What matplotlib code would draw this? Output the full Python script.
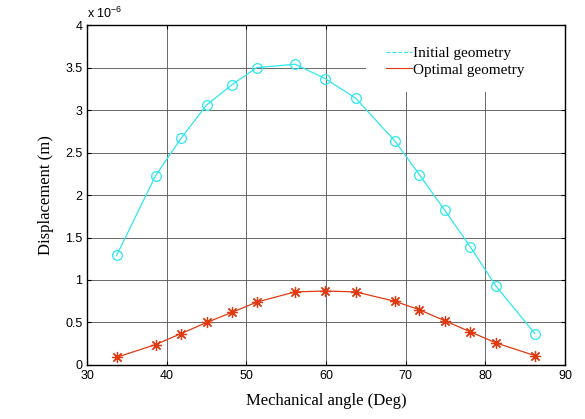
import numpy as np
import matplotlib.pyplot as plt
from matplotlib.lines import Line2D
from matplotlib.patches import Rectangle
from matplotlib.ticker import FuncFormatter

angle = [33.7, 38.6, 41.8, 45.0, 48.2, 51.3, 56.1, 59.9, 63.7, 68.6, 71.7, 74.9, 78.1, 81.3, 86.2]
initial = [1.29, 2.23, 2.67, 3.06, 3.30, 3.50, 3.54, 3.37, 3.14, 2.64, 2.24, 1.82, 1.39, 0.93, 0.37]
optimal = [0.09, 0.24, 0.37, 0.50, 0.62, 0.74, 0.86, 0.87, 0.86, 0.75, 0.65, 0.52, 0.39, 0.26, 0.11]

scale = 1e-6
initial = np.array(initial) * scale
optimal = np.array(optimal) * scale

cyan = '#2ee8ee'
red = '#e03a12'

fig = plt.figure(figsize=(5.85, 4.19), dpi=100)
ax = fig.add_axes([0.149, 0.129, 0.817, 0.811])

ax.plot(angle, initial, '-o', color=cyan, lw=0.9, ms=7, mfc='none', mew=0.9)
ax.plot(angle, optimal, '-', marker=(8, 2, 0), color=red, lw=0.9, ms=8, mew=0.9)

ax.set_xlim(30, 90)
ax.set_ylim(0, 4e-6)
ax.set_xticks(np.arange(30, 91, 10))
ax.set_yticks(np.arange(0, 4.01, 0.5) * scale)
ax.yaxis.set_major_formatter(FuncFormatter(lambda v, p: '%g' % round(v / scale, 2)))
ax.grid(True, color='#505050', lw=0.6)
ax.tick_params(direction='in', top=True, right=True, labelsize=9, length=3)
for lab in ax.get_xticklabels() + ax.get_yticklabels():
    lab.set_family('Liberation Sans')
for s in ax.spines.values():
    s.set_linewidth(1.0)

ax.text(0.0, 1.012, 'x 10$^{\\mathregular{-6}}$', transform=ax.transAxes, fontsize=9,
        family='Liberation Sans', va='bottom', ha='left')

ax.set_xlabel('Mechanical angle (Deg)', family='Liberation Serif', fontsize=12, labelpad=8)
ax.set_ylabel('Displacement (m)', family='Liberation Serif', fontsize=12, labelpad=8)

# white legend box hiding the grid, as in the original
ax.add_patch(Rectangle((0.584, 0.803), 0.416, 0.197, transform=ax.transAxes,
                       facecolor='white', edgecolor='none', zorder=1.8))

handles = [Line2D([], [], color=cyan, ls='--', lw=0.8),
           Line2D([], [], color=red, ls='-', lw=0.8)]
leg = ax.legend(handles, ['Initial geometry', 'Optimal geometry'], loc='upper left',
                bbox_to_anchor=(0.626, 0.938), frameon=False,
                prop={'family': 'Liberation Serif', 'size': 11},
                handlelength=1.7, handletextpad=0.05, labelspacing=0.2, borderpad=0,
                borderaxespad=0)

fig.savefig('out.png', dpi=100)
